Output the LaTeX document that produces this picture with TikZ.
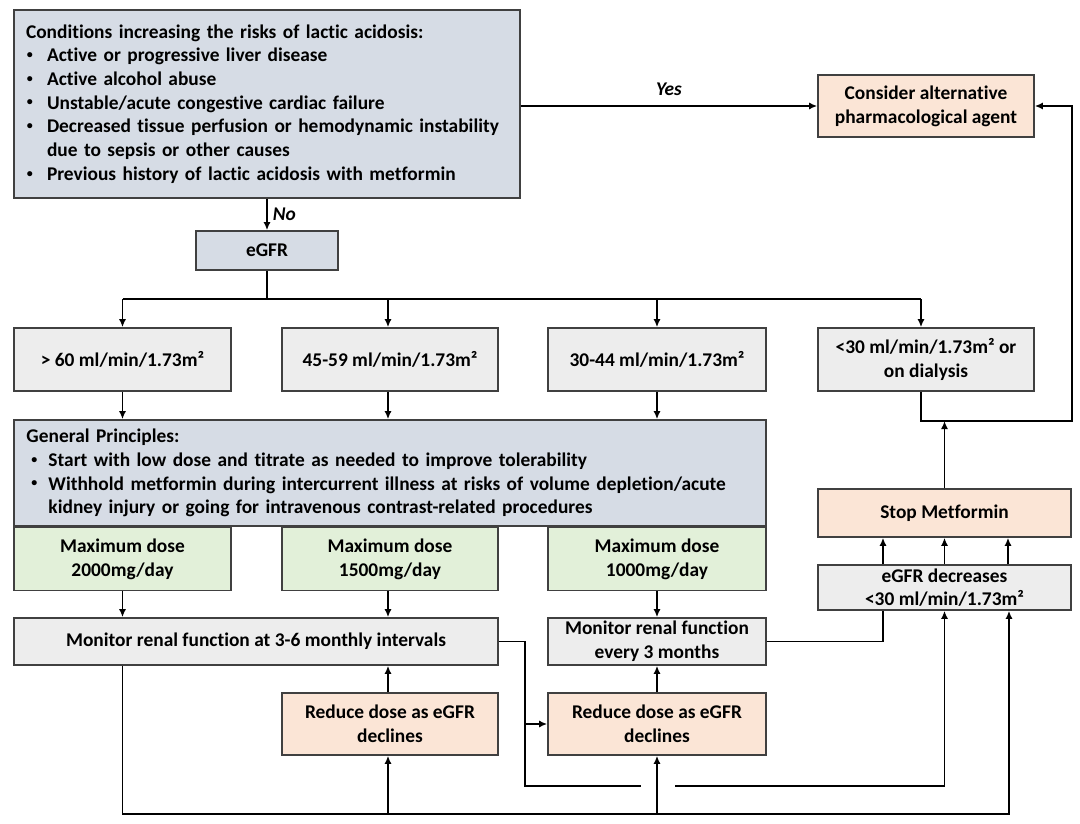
\documentclass[tikz,border=0pt]{standalone}
\usepackage{fontspec}
\setmainfont{Carlito}[Ligatures=NoCommon]
\usetikzlibrary{arrows.meta}
\definecolor{bluegray}{HTML}{D6DCE5}
\definecolor{peach}{HTML}{FBE5D6}
\definecolor{lgreen}{HTML}{E2F0D9}
\definecolor{lgray}{HTML}{EDEDED}
\definecolor{edge}{HTML}{404040}
\tikzset{
  box/.style={draw=edge, line width=1.6pt, rectangle, inner sep=0pt, align=center,
    font=\fontsize{19.4}{23.7}\selectfont\bfseries},
  bgbox/.style={box, fill=bluegray},
  pbox/.style={box, fill=peach},
  gbox/.style={box, fill=lgreen},
  ybox/.style={box, fill=lgray},
  conn/.style={draw=black, line width=1.8pt},
  arr/.style={conn, -{Latex[length=8pt,width=7pt]}},
  lbl/.style={font=\fontsize{19.4}{23.7}\selectfont\bfseries\itshape, inner sep=0pt}
}
\newcommand{\bul}{\hspace*{1pt}\makebox[20pt][l]{\raisebox{0.35ex}{\fontsize{12}{12}\selectfont\textbullet}}}
\newcommand{\bulc}{\hspace*{21pt}}
\newcommand{\gbul}{\hspace*{5pt}\makebox[17pt][l]{\raisebox{0.35ex}{\fontsize{12}{12}\selectfont\textbullet}}}
\newcommand{\gbulc}{\hspace*{22pt}}
\begin{document}
\begin{tikzpicture}[x=1pt,y=-1pt]
\useasboundingbox (0,0) rectangle (1080,824);
% nodes
\node[bgbox, minimum width=506, minimum height=188, text width=482, align=left] (cond) at (267,104)
 {Conditions increasing the risks of lactic acidosis:\\
 \bul Active or progressive liver disease\\
 \bul Active alcohol abuse\\
 \bul Unstable/acute congestive cardiac failure\\
 \bul Decreased tissue perfusion or hemodynamic instability\\
 \bulc due to sepsis or other causes\\
 \bul Previous history of lactic acidosis with metformin};
\node[pbox, minimum width=216, minimum height=62] (alt) at (926,106) {Consider alternative\\pharmacological agent};
\node[bgbox, minimum width=142, minimum height=39] (egfr) at (267,250.5) {eGFR};
\node[ybox, minimum width=217, minimum height=63] (r1) at (122.5,359.5) {> 60 ml/min/1.73m²};
\node[ybox, minimum width=216, minimum height=63] (r2) at (390,359.5) {45-59 ml/min/1.73m²};
\node[ybox, minimum width=218, minimum height=63] (r3) at (657,359.5) {30-44 ml/min/1.73m²};
\node[ybox, minimum width=216, minimum height=63] (r4) at (926,359.5) {<30 ml/min/1.73m² or\\on dialysis};
\node[bgbox, minimum width=752, minimum height=106, text width=727, align=left] (gp) at (390,473)
 {General Principles:\\
 \gbul Start with low dose and titrate as needed to improve tolerability\\
 \gbul Withhold metformin during intercurrent illness at risks of volume depletion/acute\\
 \gbulc kidney injury or going for intravenous contrast-related procedures};
\node[gbox, minimum width=217, minimum height=63] (m1) at (122.5,559) {Maximum dose\\2000mg/day};
\node[gbox, minimum width=216, minimum height=63] (m2) at (390,559) {Maximum dose\\1500mg/day};
\node[gbox, minimum width=218, minimum height=63] (m3) at (657,559) {Maximum dose\\1000mg/day};
\node[ybox, minimum width=484, minimum height=47] (mon1) at (256,641.5) {Monitor renal function at 3-6 monthly intervals};
\node[ybox, minimum width=218, minimum height=47] (mon2) at (657,641.5) {Monitor renal function\\every 3 months};
\node[pbox, minimum width=216, minimum height=62] (red1) at (390,724) {Reduce dose as eGFR\\declines};
\node[pbox, minimum width=218, minimum height=62] (red2) at (657,724) {Reduce dose as eGFR\\declines};
\node[pbox, minimum width=253, minimum height=48] (stop) at (944.5,513) {Stop Metformin};
\node[ybox, minimum width=253, minimum height=45] (dec) at (944.5,587.5) {eGFR decreases\\<30 ml/min/1.73m²};
% coordinates
\coordinate (bus) at (0,299);
\coordinate (low) at (0,814);
\coordinate (mid) at (0,786);
\coordinate (ret) at (0,421);
% connectors
\draw[arr] (cond.east |- alt.west) -- node[lbl, above=9pt, pos=0.5] {Yes} (alt.west);
\draw[arr] (cond.south) -- node[lbl, right=5pt] {No} (egfr.north);
\draw[conn] (egfr.south) -- (egfr.south |- bus);
\draw[conn] (r1.north |- bus) -- ([xshift=-5pt]r4.north |- bus);
\draw[arr] (r1.north |- bus) -- (r1.north);
\draw[arr] ([xshift=-2pt]r2.north |- bus) -- ([xshift=-2pt]r2.north);
\draw[arr] (r3.north |- bus) -- (r3.north);
\draw[arr] ([xshift=-5pt]r4.north |- bus) -- ([xshift=-5pt]r4.north);
\draw[arr] (r1.south) -- (r1.south |- gp.north);
\draw[arr] ([xshift=-2pt]r2.south) -- ([xshift=-2pt]r2.south |- gp.north);
\draw[arr] (r3.south) -- (r3.south |- gp.north);
\draw[arr] (m1.south) -- (m1.south |- mon1.north);
\draw[arr] ([xshift=-2pt]m2.south) -- ([xshift=-2pt]m2.south |- mon1.north);
\draw[arr] (m3.south) -- (mon2.north);
\draw[arr] ([xshift=-2pt]red1.north) -- ([xshift=-2pt]red1.north |- mon1.south);
\draw[arr] (red2.north) -- (mon2.south);
% bottom loop
\draw[arr] (m1.south |- mon1.south) -- (m1.south |- low) -- ([xshift=64.5pt]dec.south |- low) -- ([xshift=64.5pt]dec.south);
\draw[arr] ([xshift=-2pt]red1.south |- low) -- ([xshift=-2pt]red1.south);
\draw[arr] (red2.south |- low) -- (red2.south);
% from monitor 1
\draw[conn] (mon1.east) -- ++(26,0) coordinate (j1) -- (j1 |- mid) -- ([xshift=-16pt]red2.south |- mid);
\draw[arr] (j1 |- red2.west) -- (red2.west);
\draw[arr] ([xshift=18pt]red2.south |- mid) -- (dec.south |- mid) -- (dec.south);
% from monitor 2
\draw[conn] (mon2.east) -- ([xshift=-61.5pt]dec.south |- mon2.east) -- ([xshift=-61.5pt]dec.south);
% dec to stop
\draw[arr] ([xshift=-61.5pt]dec.north) -- ([xshift=-61.5pt]stop.south);
\draw[arr] (dec.north) -- (stop.south);
\draw[arr] ([xshift=63.5pt]dec.north) -- ([xshift=63.5pt]stop.south);
% return to alternative
\draw[arr] (stop.north) -- (stop.north |- ret);
\draw[arr] ([xshift=-5pt]r4.south) -- ([xshift=-5pt]r4.south |- ret) -- (stop.east |- ret) -- (stop.east |- alt.east) -- (alt.east);
\end{tikzpicture}
\end{document}
